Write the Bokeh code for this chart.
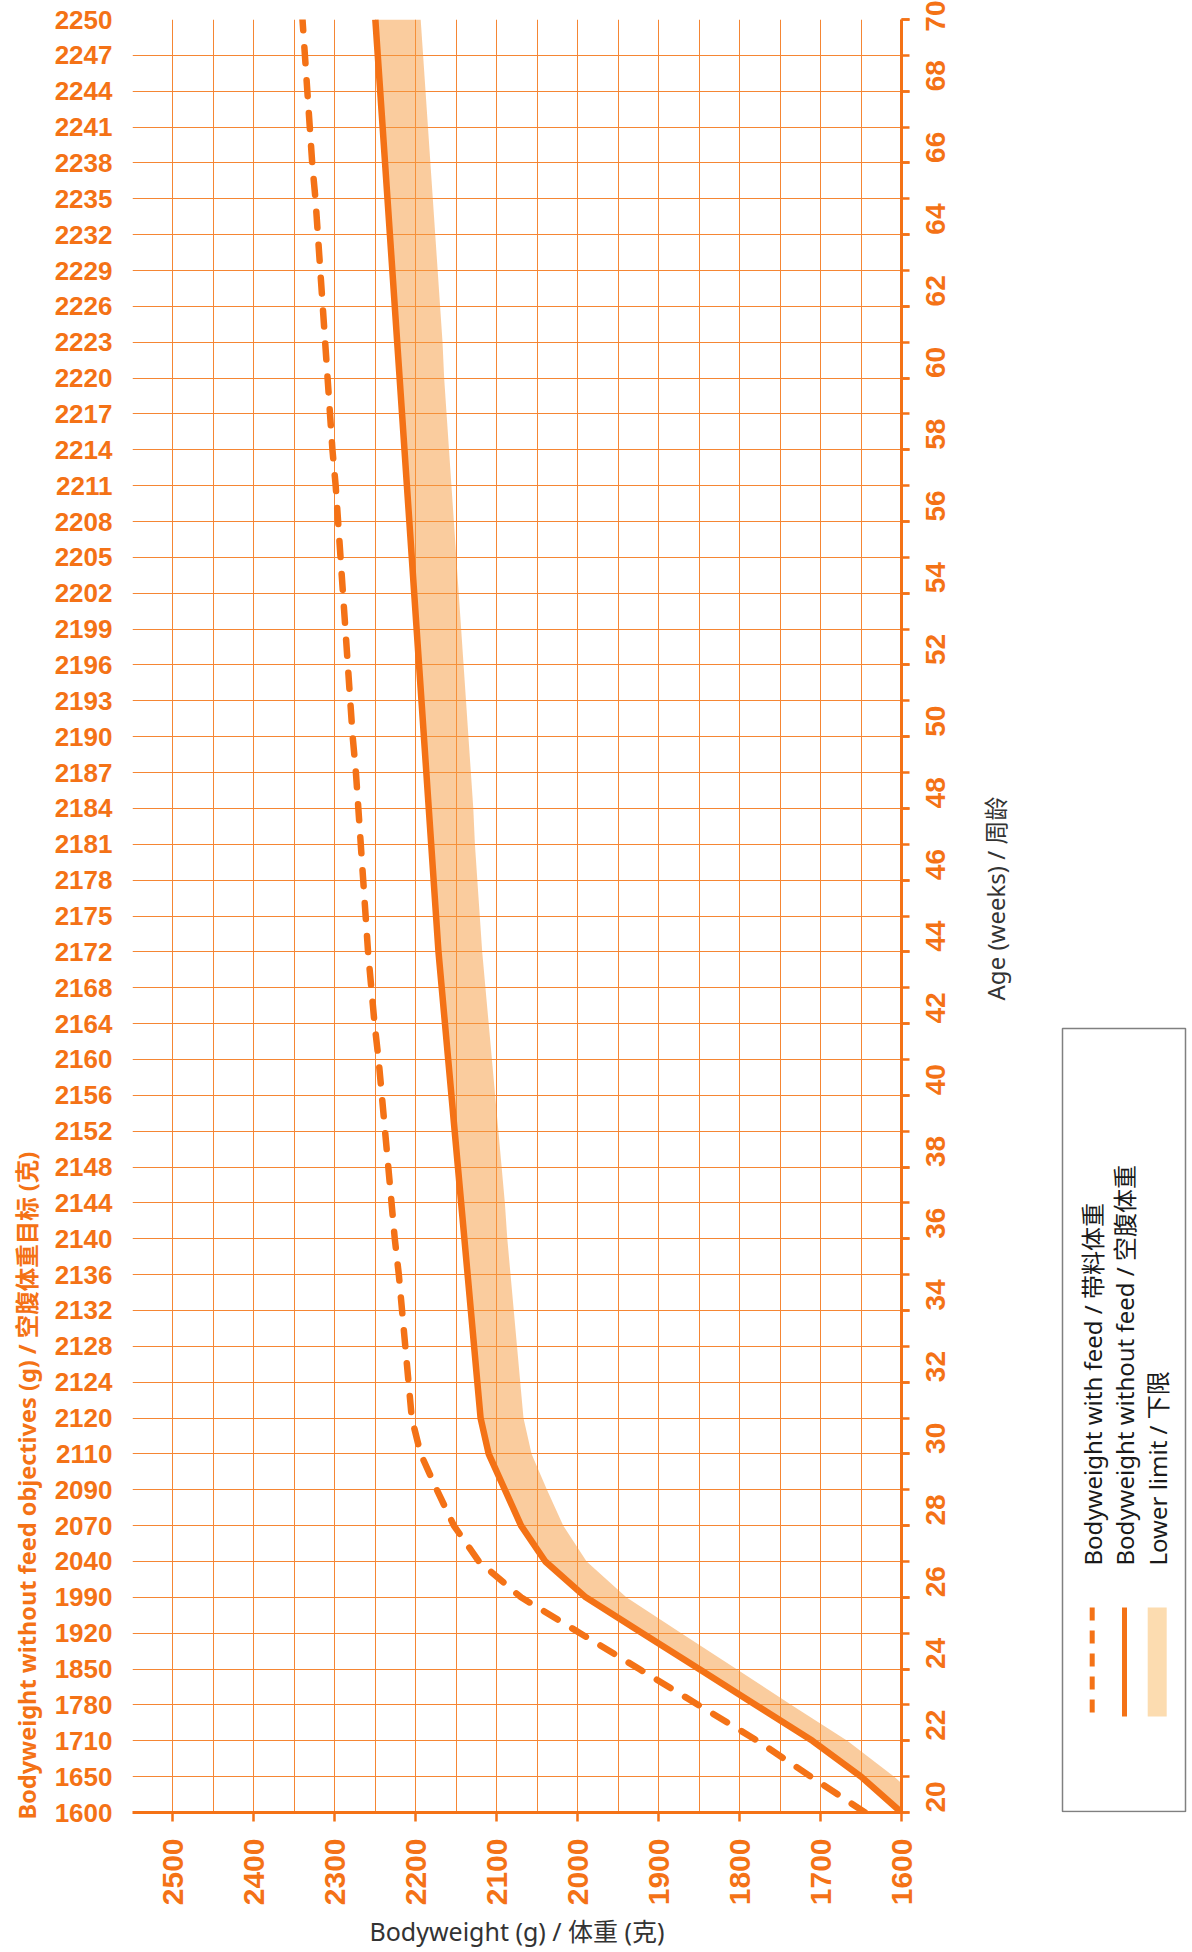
import math
from bokeh.plotting import figure
from bokeh.models import Range1d, FixedTicker, LinearAxis, Title, Label
from bokeh.layouts import row
from bokeh.embed import file_html
from bokeh.resources import INLINE

# ---------------- data ----------------
weeks = list(range(20, 71))
bw_without = [1600, 1650, 1710, 1780, 1850, 1920, 1990, 2040, 2070, 2090,
              2110, 2120, 2124, 2128, 2132, 2136, 2140, 2144, 2148, 2152,
              2156, 2160, 2164, 2168, 2172, 2175, 2178, 2181, 2184, 2187,
              2190, 2193, 2196, 2199, 2202, 2205, 2208, 2211, 2214, 2217,
              2220, 2223, 2226, 2229, 2232, 2235, 2238, 2241, 2244, 2247, 2250]
bw_with = [1645, 1712, 1778, 1851, 1924, 1997, 2070, 2122, 2153, 2174,
           2194, 2205, 2209, 2213, 2217, 2221, 2226, 2230, 2234, 2238,
           2242, 2246, 2251, 2255, 2259, 2262, 2265, 2268, 2271, 2274,
           2278, 2281, 2284, 2287, 2290, 2293, 2296, 2299, 2303, 2306,
           2309, 2312, 2315, 2318, 2321, 2324, 2328, 2331, 2334, 2337, 2340]
lower_limit = [1560, 1609, 1667, 1736, 1804, 1872, 1940, 1989, 2018, 2038,
               2057, 2067, 2071, 2075, 2079, 2083, 2087, 2090, 2094, 2098,
               2102, 2106, 2110, 2114, 2118, 2121, 2124, 2127, 2129, 2132,
               2135, 2138, 2141, 2144, 2147, 2150, 2153, 2156, 2159, 2162,
               2165, 2167, 2170, 2173, 2176, 2179, 2182, 2185, 2188, 2191, 2194]
bw_ticks = [1600, 1700, 1800, 1900, 2000, 2100, 2200, 2300, 2400, 2500]
bw_grid = list(range(1600, 2551, 50))
age_ticks = list(range(20, 71, 2))

legend_labels = ["Bodyweight with feed / 带料体重",
                 "Bodyweight without feed / 空腹体重",
                 "Lower limit / 下限"]

ORANGE = "#F47216"
GRID = "#F58634"
TXT_FONT = "'Noto Sans', 'Noto Sans CJK SC', sans-serif"
NUM_FONT = "'Liberation Sans', Arial, sans-serif"

W_MAIN, W_SIDE, H = 980, 210, 1952
B_TOP, B_BOT = 19, 140
FRAME_H = H - B_TOP - B_BOT
FB = H - B_BOT  # frame bottom on canvas

p = figure(width=W_MAIN, height=H, output_backend="svg", toolbar_location=None,
           x_range=Range1d(2550, 1600), y_range=Range1d(20, 70),
           x_axis_location="below", y_axis_location="right",
           min_border_left=132, min_border_right=W_MAIN - 132 - 769,
           min_border_top=B_TOP, min_border_bottom=B_BOT)
p.outline_line_color = None
p.background_fill_color = "white"
p.border_fill_color = "white"

# grid
p.xgrid.ticker = FixedTicker(ticks=bw_grid)
p.ygrid.ticker = FixedTicker(ticks=weeks)
p.grid.grid_line_color = GRID
p.grid.grid_line_width = 1

# band, lines
p.harea(x1=lower_limit, x2=bw_without, y=weeks, fill_color="#F59A3E", fill_alpha=0.5)
p.line(bw_without, weeks, line_color=ORANGE, line_width=6.5, line_join="round")
p.line(bw_with, weeks, line_color=ORANGE, line_width=6.5, line_dash="16 17",
       line_cap="round", line_join="round")

# bottom axis
xa = p.xaxis[0]
xa.ticker = FixedTicker(ticks=bw_ticks)
xa.major_label_orientation = math.pi / 2
xa.major_label_text_font = NUM_FONT
xa.major_label_text_font_style = "bold"
xa.major_label_text_font_size = "30px"
xa.major_label_text_color = ORANGE
xa.major_label_standoff = 17
xa.axis_line_color = ORANGE
xa.axis_line_width = 3
xa.major_tick_line_color = ORANGE
xa.major_tick_line_width = 2.5
xa.major_tick_out = 9
xa.major_tick_in = 0
xa.minor_tick_line_color = None
xa.axis_label = "Bodyweight (g) / 体重 (克)"
xa.axis_label_text_font = TXT_FONT
xa.axis_label_text_font_style = "normal"
xa.axis_label_text_font_size = "25px"
xa.axis_label_text_color = "#333333"
xa.axis_label_standoff = 6

# right axis (age)
ya = p.yaxis[0]
ya.ticker = FixedTicker(ticks=age_ticks, minor_ticks=weeks)
ya.major_label_orientation = math.pi / 2
ya.major_label_text_font = NUM_FONT
ya.major_label_text_font_style = "bold"
ya.major_label_text_font_size = "28px"
ya.major_label_text_color = ORANGE
ya.major_label_standoff = 26
ya.axis_line_color = ORANGE
ya.axis_line_width = 3
ya.major_tick_line_color = ORANGE
ya.major_tick_line_width = 2.5
ya.minor_tick_line_color = ORANGE
ya.minor_tick_line_width = 2.5
ya.major_tick_out = 8
ya.minor_tick_out = 8
ya.major_tick_in = 0
ya.minor_tick_in = 0

# left axis: targets without feed per week
la = LinearAxis(ticker=FixedTicker(ticks=weeks),
                major_label_overrides={w: str(v) for w, v in zip(weeks, bw_without)})
la.axis_line_color = None
la.major_tick_line_color = None
la.minor_tick_line_color = None
la.major_tick_out = 0
la.major_tick_in = 0
la.minor_tick_out = 0
la.minor_tick_in = 0
la.major_label_standoff = 20
la.major_label_text_font = NUM_FONT
la.major_label_text_font_style = "bold"
la.major_label_text_font_size = "26px"
la.major_label_text_color = ORANGE
p.add_layout(la, "left")

lt = Title(text="Bodyweight without feed objectives (g) / 空腹体重目标 (克)",
           align="left", text_color=ORANGE, text_font=TXT_FONT,
           text_font_style="bold", text_font_size="23.5px", standoff=17, offset=-7)
p.add_layout(lt, "left")

# cut-off marker in the corner
p.add_layout(Label(x=-119, y=FB - 30, x_units="screen", y_units="screen", text="2021",
                   angle=-math.pi / 2, text_align="right", text_baseline="middle",
                   text_color="#16A0A0", text_font=TXT_FONT, text_font_size="24px"))

# ---------------- side panel: age title + rotated legend ----------------
# side figure shares the main frame's vertical extent; y = pixels above frame bottom,
# x = pixels from the side panel's left edge
q = figure(width=W_SIDE, height=H, output_backend="svg", toolbar_location=None,
           x_range=Range1d(0, W_SIDE), y_range=Range1d(0, FRAME_H),
           min_border_left=0, min_border_right=0,
           min_border_top=B_TOP, min_border_bottom=B_BOT)
q.axis.visible = False
q.grid.visible = False
q.outline_line_color = None
q.background_fill_color = "white"
q.border_fill_color = "white"

X0 = W_MAIN
q.text(x=[995 - X0], y=[FB - 898], text=["Age (weeks) / 周龄"], angle=math.pi / 2,
       text_align="center", text_baseline="middle", text_color="#333333",
       text_font_size="24px", text_font={"value": TXT_FONT})

box_l, box_r, box_t, box_b = 1062 - X0, 1185 - X0, FB - 1028, 1
q.quad(left=[box_l], right=[box_r], top=[box_t], bottom=[box_b],
       fill_color=None, line_color="#808080", line_width=1.5)
g_top, g_bot = FB - 1607, FB - 1716
col_x = [1091.7 - X0, 1124 - X0, 1156.7 - X0]
q.line([col_x[0], col_x[0]], [g_top, g_bot], line_color=ORANGE, line_width=5, line_dash="13 10")
q.line([col_x[1], col_x[1]], [g_top, g_bot], line_color=ORANGE, line_width=5)
q.quad(left=[col_x[2] - 9.5], right=[col_x[2] + 9.5], top=[g_top], bottom=[g_bot],
       fill_color="#FCDCB0", line_color=None)
q.text(x=col_x, y=[FB - 1565] * 3, text=legend_labels, angle=math.pi / 2,
       text_align="left", text_baseline="middle", text_color="#1a1a1a",
       text_font_size="24px", text_font={"value": TXT_FONT})

layout = row(p, q)
open("out.html", "w").write(file_html(layout, INLINE))
